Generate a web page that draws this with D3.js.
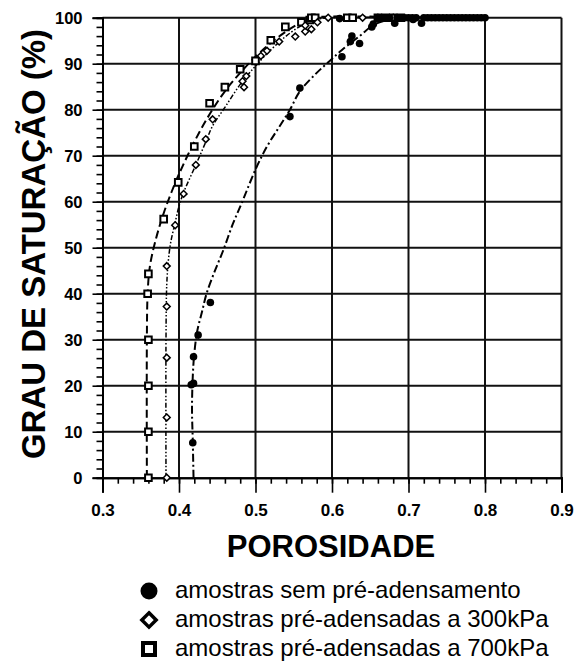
<!DOCTYPE html>
<html><head><meta charset="utf-8">
<script src="https://cdn.jsdelivr.net/npm/d3@7"></script>
<style>body{margin:0;background:#fff}svg{display:block}</style>
</head><body>
<svg id="c" width="586" height="666"></svg>
<script>
// ---- data (porosity, saturation %) ----
const xTicks = [0.3,0.4,0.5,0.6,0.7,0.8,0.9];
const yTicks = [0,10,20,30,40,50,60,70,80,90,100];

const semPre = [ // circles
 [0.418,7.6],[0.416,20.2],[0.419,20.5],[0.419,26.3],[0.425,31.0],[0.441,38.1],
 [0.545,78.5],[0.558,84.7],[0.613,91.5],[0.624,94.8],[0.626,96.0],[0.636,94.4],
 [0.610,99.8],[0.652,98.0],[0.654,98.6],[0.682,98.8],[0.717,98.8],[0.706,99.6],
 [0.660,100],[0.665,100],[0.670,100],[0.675,100],[0.685,100],[0.690,100],[0.695,100],
 [0.700,100],[0.705,100],[0.710,100],[0.720,100],[0.725,100],[0.730,100],[0.735,100],
 [0.740,100],[0.745,100],[0.750,100],[0.755,100],[0.760,100],[0.765,100],[0.770,100],
 [0.775,100],[0.780,100],[0.785,100],[0.790,100],[0.795,100],[0.800,100]
];
const pre300 = [ // diamonds
 [0.384,0],[0.384,13.1],[0.384,26.1],[0.384,37.2],[0.384,46.0],[0.395,54.9],[0.406,61.7],
 [0.422,68.0],[0.435,73.6],[0.444,77.9],[0.485,84.9],[0.483,86.2],[0.488,87.3],[0.507,91.7],
 [0.515,92.8],[0.531,94.8],[0.552,95.9],[0.565,97.0],[0.573,97.5],[0.565,98.3],[0.581,99.0],
 [0.595,100],[0.640,100],[0.660,100],[0.680,100]
];
const pre700 = [ // squares
 [0.36,0],[0.36,10],[0.36,20],[0.36,30],[0.359,40],[0.36,44.3],[0.38,56.2],[0.399,64.2],
 [0.42,72.0],[0.44,81.4],[0.46,84.9],[0.48,88.8],[0.50,90.6],[0.52,95.1],[0.539,98.0],
 [0.56,99.0],[0.571,99.5],[0.573,100],[0.578,100],[0.62,100],[0.627,100],[0.66,100],
 [0.67,100],[0.68,100],[0.69,100]
];
// trend curves
const curveSem = [[0.419,0],[0.418,8],[0.417,15],[0.418,22],[0.42,27],[0.424,32],[0.43,36],
 [0.436,40],[0.447,45],[0.458,49.5],[0.47,55],[0.482,59.7],[0.50,67],[0.515,72],[0.53,76],
 [0.545,80],[0.558,84],[0.58,88],[0.597,90.6],[0.613,93],[0.636,96],[0.654,98.4],[0.672,99.5],
 [0.69,100],[0.80,100]];
const curve300 = [[0.383,0],[0.383,30],[0.384,42],[0.386,47],[0.389,51],[0.395,55.5],[0.40,59],
 [0.406,62],[0.422,68],[0.435,73],[0.444,76.5],[0.46,80.5],[0.48,85.5],[0.50,89.5],[0.52,93],
 [0.54,96],[0.56,98.3],[0.58,99.6],[0.60,100],[0.70,100]];
const curve700 = [[0.358,0],[0.358,30],[0.359,40],[0.362,46],[0.37,52],[0.38,57.5],[0.39,62],
 [0.40,66],[0.42,73],[0.44,79],[0.46,84],[0.48,88],[0.50,91.5],[0.52,94.5],[0.54,97],
 [0.56,99],[0.575,100],[0.70,100]];
const legendLabels = ["amostras sem pré-adensamento","amostras pré-adensadas a 300kPa","amostras pré-adensadas a 700kPa"];

// ---- drawing ----
const svg = d3.select("#c");
const FONT = "'Liberation Sans', Arial, Helvetica, sans-serif";
const x = d3.scaleLinear().domain([0.3,0.9]).range([102.5,561.5]);
const y = d3.scaleLinear().domain([0,100]).range([477.7,17.7]);

// grid
const g = svg.append("g");
g.selectAll(".vg").data(xTicks.slice(1)).join("line")
 .attr("x1",d=>x(d)).attr("x2",d=>x(d)).attr("y1",y(0)).attr("y2",y(100))
 .attr("stroke","#111").attr("stroke-width",2);
g.selectAll(".hg").data(yTicks.slice(1)).join("line")
 .attr("x1",x(0.3)).attr("x2",x(0.9)).attr("y1",d=>y(d)).attr("y2",d=>y(d))
 .attr("stroke","#111").attr("stroke-width",2);

// axes
const xAxis = d3.axisBottom(x).tickValues(xTicks).tickSize(15).tickFormat(d3.format(".1f"));
const xMinor = d3.axisBottom(x).tickValues(d3.range(30,91,2).map(v=>v/100)).tickSize(6).tickFormat("");
const yAxis = d3.axisLeft(y).tickValues(yTicks).tickSize(10).tickFormat(d3.format("d"));
const yMinor = d3.axisLeft(y).tickValues(d3.range(0,101,2)).tickSize(6).tickFormat("");

const gxm = svg.append("g").attr("transform",`translate(0,${y(0)})`).call(xMinor);
const gx = svg.append("g").attr("transform",`translate(0,${y(0)})`).call(xAxis);
const gym = svg.append("g").attr("transform",`translate(${x(0.3)},0)`).call(yMinor);
const gy = svg.append("g").attr("transform",`translate(${x(0.3)},0)`).call(yAxis);
[gx,gxm,gy,gym].forEach(a=>{
  a.select(".domain").attr("stroke","#000").attr("stroke-width",2);
  a.selectAll(".tick line").attr("stroke","#000").attr("stroke-width",1.6);
});
gx.selectAll("text").attr("font-family",FONT).attr("font-weight","bold").attr("font-size",17)
  .attr("fill","#000").attr("dy","0").attr("y",38);
gy.selectAll("text").attr("font-family",FONT).attr("font-weight","bold").attr("font-size",16.5)
  .attr("fill","#000").attr("x",-20).attr("dy","0.36em");

// titles
svg.append("text").attr("x",331).attr("y",557).attr("text-anchor","middle")
 .attr("font-family",FONT).attr("font-weight","bold").attr("font-size",31).text("POROSIDADE");
svg.append("text").attr("transform","translate(45,244) rotate(-90)").attr("text-anchor","middle")
 .attr("font-family",FONT).attr("font-weight","bold").attr("font-size",33).text("GRAU DE SATURAÇÃO (%)");

// curves
const line = d3.line().x(d=>x(d[0])).y(d=>y(d[1])).curve(d3.curveCatmullRom.alpha(0.5));
svg.append("path").attr("d",line(curveSem)).attr("fill","none").attr("stroke","#000")
 .attr("stroke-width",2).attr("stroke-dasharray","8,3,2,3");
svg.append("path").attr("d",line(curve300)).attr("fill","none").attr("stroke","#000")
 .attr("stroke-width",1.5).attr("stroke-dasharray","5,2,1.5,2,1.5,2");
svg.append("path").attr("d",line(curve700)).attr("fill","none").attr("stroke","#000")
 .attr("stroke-width",2).attr("stroke-dasharray","8,4");

// markers
const sym = (type,size)=>d3.symbol().type(type).size(size)();
svg.append("g").selectAll("path").data(pre700).join("path")
 .attr("transform",d=>`translate(${x(d[0])},${y(d[1])})`).attr("d",sym(d3.symbolSquare,44))
 .attr("fill","#fff").attr("stroke","#000").attr("stroke-width",2);
svg.append("g").selectAll("path").data(pre300).join("path")
 .attr("transform",d=>`translate(${x(d[0])},${y(d[1])})`).attr("d",sym(d3.symbolDiamond2,30))
 .attr("fill","#fff").attr("stroke","#000").attr("stroke-width",1.5);
svg.append("g").selectAll("circle").data(semPre).join("circle")
 .attr("cx",d=>x(d[0])).attr("cy",d=>y(d[1])).attr("r",3.8).attr("fill","#000");

// legend
const lg = svg.append("g");
const ly = [591,620,649];
lg.append("circle").attr("cx",149).attr("cy",ly[0]).attr("r",8.5).attr("fill","#000");
lg.append("path").attr("transform",`translate(149,${ly[1]})`).attr("d",sym(d3.symbolDiamond2,130))
 .attr("fill","#fff").attr("stroke","#000").attr("stroke-width",3.5);
lg.append("rect").attr("x",143).attr("y",ly[2]-6).attr("width",12).attr("height",12)
 .attr("fill","#fff").attr("stroke","#000").attr("stroke-width",4);
lg.selectAll("text").data(legendLabels).join("text")
 .attr("x",175).attr("y",(d,i)=>ly[i]+7).attr("font-family",FONT).attr("font-size",24)
 .attr("fill","#000").text(d=>d);
</script>
</body></html>
